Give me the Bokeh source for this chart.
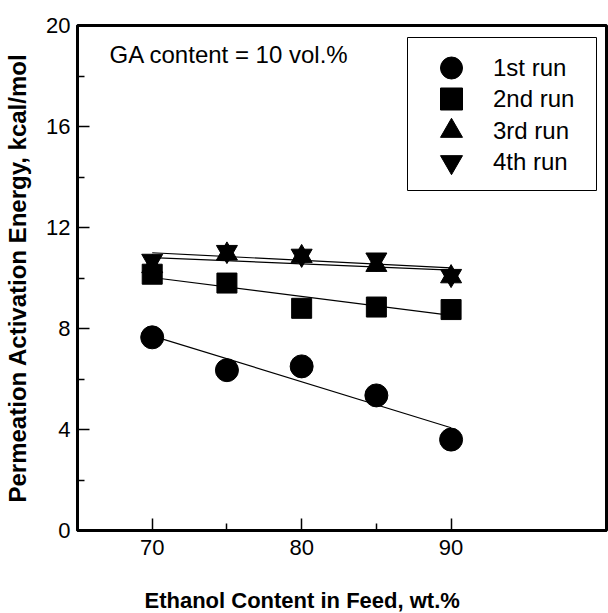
import numpy as np
from bokeh.plotting import figure
from bokeh.models import FixedTicker, Legend, LegendItem, Label, Range1d, BoxAnnotation, Title
from bokeh.embed import file_html
from bokeh.resources import INLINE

# ---- data ----
ethanol = [70, 75, 80, 85, 90]
run1 = [7.65, 6.35, 6.5, 5.35, 3.6]
run2 = [10.15, 9.8, 8.8, 8.85, 8.75]
run3 = [10.45, 10.95, 10.85, 10.5, 10.05]
run4 = [10.7, 11.05, 10.9, 10.75, 10.1]
run_labels = ["1st run", "2nd run", "3rd run", "4th run"]
x_ticks = [70, 80, 90]
x_minor = [75, 85]
y_ticks = [0, 4, 8, 12, 16, 20]
y_minor = [2, 6, 10, 14, 18]

FONT = "Liberation Sans"

p = figure(width=608, height=613, output_backend="svg", toolbar_location=None,
           x_range=Range1d(65, 100.4), y_range=Range1d(0, 20),
           min_border_left=77, min_border_right=2, min_border_top=25, min_border_bottom=83)
p.background_fill_color = "white"
p.border_fill_color = "white"
p.grid.visible = False
p.outline_line_color = "black"
p.outline_line_width = 3

for ax, ticks, minor in ((p.xaxis[0], x_ticks, x_minor), (p.yaxis[0], y_ticks, y_minor)):
    ax.ticker = FixedTicker(ticks=ticks, minor_ticks=minor)
    ax.axis_line_width = 3
    ax.axis_line_color = "black"
    ax.major_tick_in = 12
    ax.major_tick_out = 0
    ax.minor_tick_in = 7
    ax.minor_tick_out = 0
    ax.major_tick_line_width = 1.5
    ax.minor_tick_line_width = 1.5
    ax.major_tick_line_color = "black"
    ax.minor_tick_line_color = "black"
    ax.major_label_text_font = FONT
    ax.major_label_text_font_size = "22px"
    ax.major_label_text_color = "black"
    ax.axis_label_text_font = FONT
    ax.axis_label_text_font_style = "bold"
    ax.axis_label_text_color = "black"

p.xaxis.major_label_standoff = 9
# blank spacer so that the title below sits lower
p.xaxis.axis_label = " "
p.xaxis.axis_label_text_font_size = "1px"
p.xaxis.axis_label_standoff = 23
p.yaxis.axis_label = "Permeation Activation Energy, kcal/mol"
p.yaxis.axis_label_text_font_size = "24px"
p.yaxis.major_label_standoff = 7
p.yaxis.axis_label_standoff = 12

# x-axis title (centred under the data span, as in the reference)
p.add_layout(Title(text="Ethanol Content in Feed, wt.%", align="left", offset=67,
                   standoff=2, text_font=FONT, text_font_size="22px",
                   text_font_style="bold", text_color="black"), "below")

series = [run1, run2, run3, run4]
markers = ["circle", "square", "triangle", "inverted_triangle"]
sizes = [23, 20, 21, 21]
renderers = []
xs = np.array(ethanol, dtype=float)
for ys, mk, sz in zip(series, markers, sizes):
    ys_arr = np.array(ys, dtype=float)
    k, b = np.polyfit(xs, ys_arr, 1)
    fx = [xs.min(), xs.max()]
    p.line(fx, [k * v + b for v in fx], line_color="black", line_width=1.2)
    r = p.scatter(ethanol, ys, marker=mk, size=sz, fill_color="black", line_color="black")
    renderers.append(r)

# legend frame
p.add_layout(BoxAnnotation(left=330, right=519, bottom=340, top=493,
                           left_units="screen", right_units="screen",
                           bottom_units="screen", top_units="screen",
                           fill_color="white", fill_alpha=1,
                           line_color="black", line_width=1, line_alpha=1))

# one legend entry per run (stacked tightly)
row_y = [435, 404, 372, 341]
for r, lab, yy in zip(renderers, run_labels, row_y):
    lg = Legend(items=[LegendItem(label=lab, renderers=[r])], location=(334, yy),
                margin=0, padding=0, glyph_width=80, glyph_height=55,
                label_standoff=2, label_text_font=FONT, label_text_font_size="24px",
                label_text_color="black", border_line_alpha=0,
                background_fill_alpha=0)
    p.add_layout(lg, "center")

p.add_layout(Label(x=32, y=476, x_units="screen", y_units="screen",
                   text="GA content = 10 vol.%", text_font=FONT, text_font_size="24px",
                   text_baseline="middle", text_color="black"))

open("out.html", "w").write(file_html(p, INLINE))
